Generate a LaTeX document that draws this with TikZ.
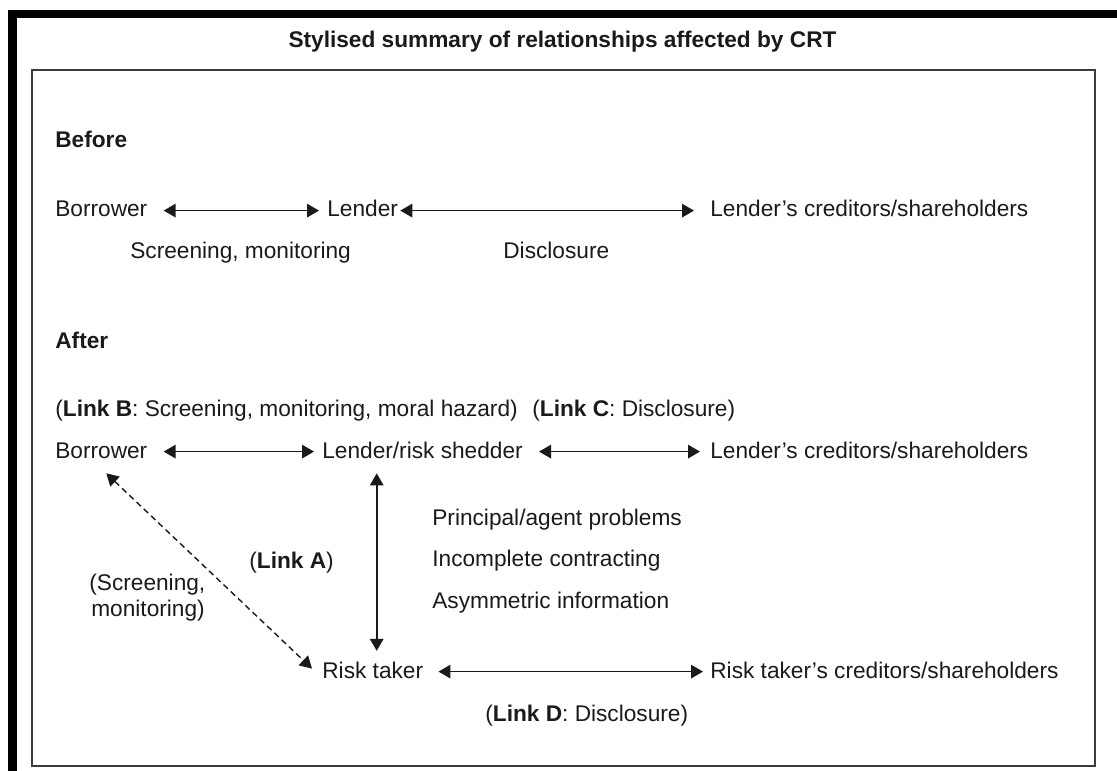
\documentclass[tikz,border=0pt]{standalone}
\usepackage{fontspec}
\setmainfont{Liberation Sans}
\usetikzlibrary{arrows.meta,calc}
\definecolor{inkgrey}{HTML}{1A1A1A}
\definecolor{framegrey}{HTML}{3C3C3C}
\newcommand{\bodyfont}{\fontsize{12.9pt}{15pt}\selectfont}
\newcommand{\titlefont}{\fontsize{12.9pt}{15pt}\selectfont\bfseries}
\tikzset{
  heading/.style={anchor=base, inner sep=0pt, font=\titlefont, text=inkgrey},
  phase/.style={anchor=base west, inner sep=0pt, font=\bodyfont\bfseries, text=inkgrey},
  party/.style={anchor=base west, inner sep=0pt, text height=1.38ex, text depth=0pt,
                font=\bodyfont, text=inkgrey},
  lbl/.style={anchor=base west, inner sep=0pt, font=\bodyfont, text=inkgrey},
  link/.style={{Triangle[length=2.4mm,width=2.7mm]}-{Triangle[length=2.4mm,width=2.7mm]},
               line width=0.9pt, draw=inkgrey},
  dlink/.style={link, line width=0.8pt, dash pattern=on 1.2mm off 0.8mm},
}

\begin{document}
\begin{tikzpicture}
\useasboundingbox (0,0) rectangle (22.34,-15.42);

% ========================= frame =========================================
\fill[black] (0.16,-0.2) rectangle (22.34,-0.36);
\fill[black] (0.16,-0.2) rectangle (0.34,-15.42);
\draw[framegrey, line width=0.6pt] (0.64,-1.4) rectangle (21.9,-15.32);

\node[heading] (ttl) at (11.25,-0.96) {Stylised summary of relationships affected by CRT};

% ========================= before ========================================
\node[phase] (bef)   at (1.1, -2.96) {Before};
\node[party] (bor1)  at (1.1, -4.34) {Borrower};
\node[party] (len1)  at (6.54,-4.34) {Lender};
\node[party] (cred1) at (14.2,-4.34) {Lender’s creditors/shareholders};
\node[lbl]   (scr1)  at (2.6, -5.16) {Screening, monitoring};
\node[lbl]   (dis1)  at (10.06,-5.16) {Disclosure};

\draw[link, shorten <=0.32cm, shorten >=0.16cm] (bor1.east) -- (len1.west);
\draw[link, shorten <=0.04cm, shorten >=0.32cm] (len1.east) -- (cred1.west);

% ========================= after =========================================
\node[phase] (aft)   at (1.1, -6.96) {After};
\node[lbl]   (lnkb)  at (1.1, -8.32) {(\textbf{Link B}: Screening, monitoring, moral hazard)};
\node[lbl]   (lnkc)  at (10.64,-8.32) {(\textbf{Link C}: Disclosure)};
\node[party] (bor2)  at (1.1, -9.16) {Borrower};
\node[party] (len2)  at (6.44,-9.16) {Lender/risk shedder};
\node[party] (cred2) at (14.2,-9.16) {Lender’s creditors/shareholders};

\node[lbl] (prin)  at (8.64,-10.5 ) {Principal/agent problems};
\node[lbl] (inco)  at (8.64,-11.32) {Incomplete contracting};
\node[lbl] (asym)  at (8.64,-12.16) {Asymmetric information};
\node[lbl] (lnka)  at (4.98,-11.36) {(\textbf{Link A})};
\node[lbl] (scra)  at (1.78,-11.8 ) {(Screening,};
\node[lbl] (scrb)  at (1.82,-12.32) {monitoring)};

\node[party] (rtk)   at (6.44,-13.56) {Risk taker};
\node[party] (rcred) at (14.2,-13.56) {Risk taker’s creditors/shareholders};
\node[lbl]   (lnkd)  at (9.7, -14.42) {(\textbf{Link D}: Disclosure)};

\draw[link, shorten <=0.32cm, shorten >=0.16cm] (bor2.east) -- (len2.west);
\draw[link, shorten <=0.32cm, shorten >=0.2cm]  (len2.east) -- (cred2.west);
\draw[link, shorten <=0.3cm,  shorten >=0.14cm] (rtk.east)  -- (rcred.west);
\draw[link] ($(len2.south -| rtk.north)+(0.08,-0.3)$) -- ($(rtk.north)+(0.08,0.28)$);
\draw[dlink] ($(bor2.south)+(0.1,-0.3)$) -- ($(rtk.west)+(-0.2,0.06)$);
\end{tikzpicture}
\end{document}
